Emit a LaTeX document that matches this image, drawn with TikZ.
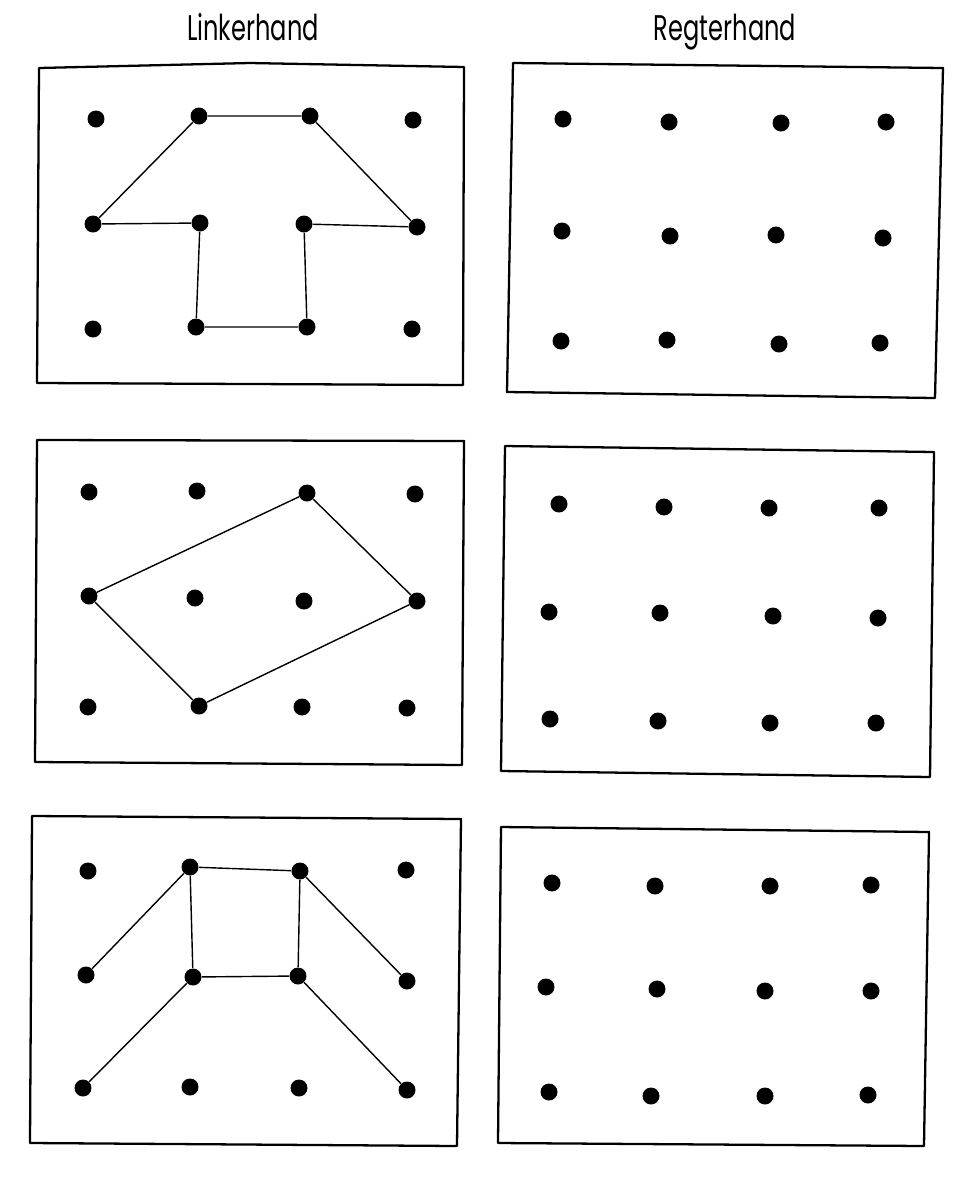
\documentclass[tikz,border=0pt]{standalone}
\usepackage{fontspec}
\setmainfont{Poppins}
\usetikzlibrary{positioning}

\begin{document}
\begin{tikzpicture}[x=0.02cm, y=-0.02cm,
    dot/.style={circle, fill, inner sep=0pt, minimum width=0.31cm, minimum height=0.34cm},
    board/.style={line width=1.3pt, line join=round},
    link/.style={line width=0.8pt},
    title/.style={font=\fontsize{14}{17}\selectfont, anchor=base}]
    \useasboundingbox (0,0) rectangle (974,1184);

    \node[title] (left) at (253,40) {\scalebox{0.98}[1.45]{Linkerhand}};
    \node[title] (right) at (725,40) {\scalebox{0.98}[1.45]{Regterhand}};

    % boards
    \draw[board] (39,68) -- (250,63) -- (464,67) -- (463,385) -- (37,383) -- cycle;
    \draw[board] (37,440) -- (464,441) -- (462,765) -- (35,762) -- cycle;
    \draw[board] (32,816) -- (461,819) -- (457,1146) -- (30,1143) -- cycle;
    \draw[board] (513,63) -- (943,68) -- (935,398) -- (507,392) -- cycle;
    \draw[board] (505,446) -- (934,452) -- (930,777) -- (501,771) -- cycle;
    \draw[board] (501,827) -- (929,832) -- (924,1146) -- (498,1143) -- cycle;

    % pegs
    \foreach \n/\x/\y in {a1/96/119, a2/199/116, a3/310/116, a4/413/120,
                          b1/93/224, b2/200/223, b3/304/224, b4/417/227,
                          c1/93/329, c2/196/327, c3/307/327, c4/412/329}
        \node[dot] (L1\n) at (\x,\y) {};
    \foreach \n/\x/\y in {a1/89/492, a2/197/491, a3/307/493, a4/415/494,
                          b1/89/596, b2/195/598, b3/304/601, b4/417/601,
                          c1/88/707, c2/199/706, c3/302/707, c4/407/708}
        \node[dot] (L2\n) at (\x,\y) {};
    \foreach \n/\x/\y in {a1/88/871, a2/190/867, a3/300/871, a4/406/870,
                          b1/86/975, b2/193/977, b3/298/976, b4/407/981,
                          c1/83/1088, c2/190/1087, c3/299/1088, c4/407/1090}
        \node[dot] (L3\n) at (\x,\y) {};
    \foreach \n/\x/\y in {a1/563/119, a2/669/122, a3/781/123, a4/886/122,
                          b1/562/231, b2/670/236, b3/776/235, b4/883/238,
                          c1/561/341, c2/667/340, c3/779/344, c4/880/343}
        \node[dot] (R1\n) at (\x,\y) {};
    \foreach \n/\x/\y in {a1/559/504, a2/664/507, a3/769/508, a4/879/508,
                          b1/549/612, b2/660/613, b3/773/616, b4/878/618,
                          c1/550/719, c2/658/721, c3/770/723, c4/876/723}
        \node[dot] (R2\n) at (\x,\y) {};
    \foreach \n/\x/\y in {a1/552/883, a2/655/886, a3/770/886, a4/871/885,
                          b1/546/987, b2/657/989, b3/765/991, b4/871/991,
                          c1/549/1092, c2/651/1096, c3/765/1096, c4/868/1095}
        \node[dot] (R3\n) at (\x,\y) {};

    % figures
    \draw[link] (L1b1) -- (L1a2) -- (L1a3) -- (L1b4) -- (L1b3) -- (L1c3)
        -- (L1c2) -- (L1b2) -- (L1b1);
    \draw[link] (L2b1) -- (L2a3) -- (L2b4) -- (L2c2) -- (L2b1);
    \draw[link] (L3a2) -- (L3a3) -- (L3b3) -- (L3b2) -- (L3a2);
    \draw[link] (L3b1) -- (L3a2);
    \draw[link] (L3a3) -- (L3b4);
    \draw[link] (L3c1) -- (L3b2);
    \draw[link] (L3b3) -- (L3c4);
\end{tikzpicture}
\end{document}
